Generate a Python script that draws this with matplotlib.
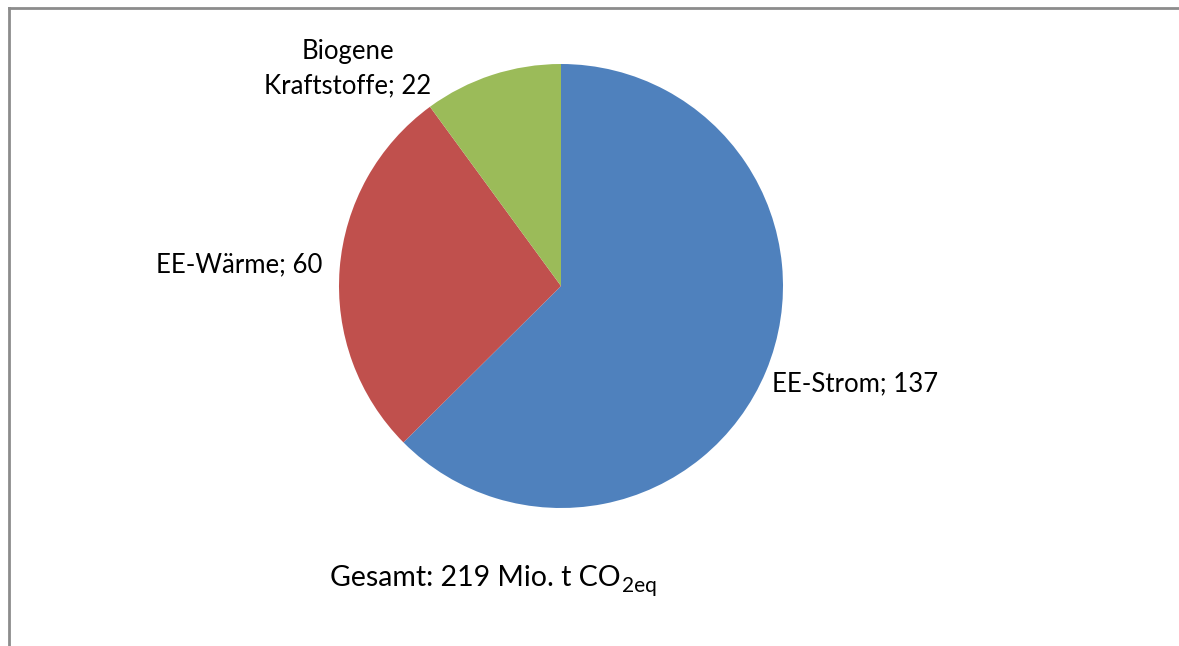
import matplotlib
matplotlib.use("Agg")
import matplotlib.pyplot as plt
from matplotlib.lines import Line2D

plt.rcParams['font.family'] = ['Lato', 'DejaVu Sans']

# Daten
kategorien = ["EE-Strom", "EE-Wärme", "Biogene\nKraftstoffe"]
werte = [137, 60, 22]
farben = ["#4F81BD", "#C0504D", "#9BBB59"]
gesamt = sum(werte)

fig = plt.figure(figsize=(11.79, 6.46), dpi=100)
ax = fig.add_axes([0, 0, 1, 1])

wedges, _ = ax.pie(werte, colors=farben, startangle=90, counterclock=False,
                   center=(561, 360), radius=222, frame=True,
                   wedgeprops=dict(linewidth=0))
ax.set_xlim(0, 1179)
ax.set_ylim(0, 646)
ax.set_aspect('equal')
ax.axis('off')

# Beschriftungen
fs = 18.5
ax.text(772, 262, f"{kategorien[0]}; {werte[0]}", fontsize=fs, ha='left', va='center')
ax.text(322, 381, f"{kategorien[1]}; {werte[1]}", fontsize=fs, ha='right', va='center')
ax.text(348, 577, f"{kategorien[2]}; {werte[2]}", fontsize=fs, ha='center', va='center',
        linespacing=1.45)

t = ax.text(330, 60, f"Gesamt: {gesamt} Mio. t CO", fontsize=20.5,
            ha='left', va='baseline')
ax.annotate("2eq", xy=(1, 0), xycoords=t, xytext=(1, -0.5), textcoords='offset points',
            fontsize=15, ha='left', va='baseline')

# Rahmen oben und links
fig.add_artist(Line2D([9 / 1179, 1], [1 - 8 / 646, 1 - 8 / 646], color="#8C8C8C",
                      linewidth=2, transform=fig.transFigure))
fig.add_artist(Line2D([9 / 1179, 9 / 1179], [0, 1 - 8 / 646], color="#8C8C8C",
                      linewidth=2, transform=fig.transFigure))

fig.savefig("out.png", dpi=100, facecolor="white")
